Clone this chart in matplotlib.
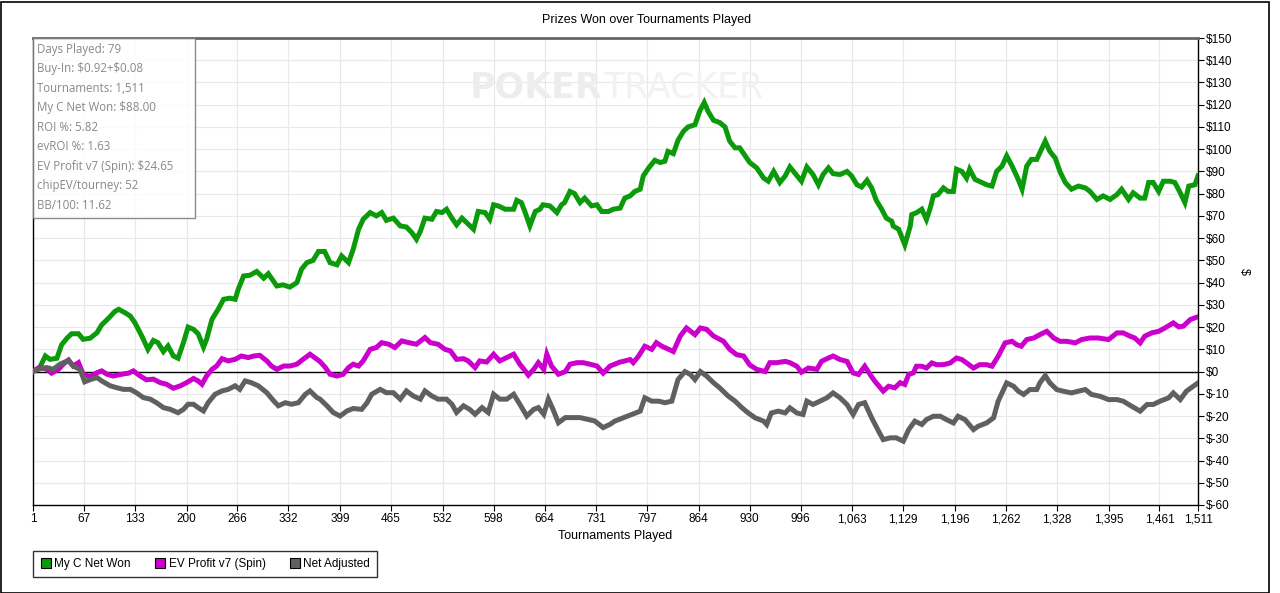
import matplotlib
matplotlib.use('Agg')
import matplotlib.pyplot as plt
from matplotlib.patches import Rectangle
from matplotlib.ticker import FuncFormatter, FixedLocator, MultipleLocator

# --- data (tournament number, $) ---
net_t = [1, 10, 17, 23, 32, 38, 45, 51, 60, 66, 75, 84, 90, 99, 107, 112, 120, 127, 133, 142,
         150, 157, 163, 170, 176, 183, 189, 196, 202, 209, 215, 222, 226, 233, 241, 248, 256, 263,
         267, 274, 282, 291, 300, 306, 317, 325, 334, 343, 349, 356, 364, 371, 379, 386, 395, 401,
         410, 416, 423, 429, 438, 446, 453, 459, 468, 477, 485, 492, 498, 503, 509, 518, 524, 531,
         537, 544, 550, 557, 563, 572, 578, 587, 593, 598, 604, 613, 624, 628, 634, 639, 645, 652,
         658, 662, 671, 680, 686, 690, 697, 703, 710, 716, 725, 732, 738, 747, 753, 762, 768, 775,
         781, 788, 792, 799, 807, 814, 820, 824, 831, 837, 844, 850, 859, 865, 871, 876, 883, 891,
         898, 904, 911, 917, 924, 930, 939, 948, 954, 961, 969, 976, 982, 989, 997, 1004, 1012,
         1019, 1025, 1032, 1038, 1047, 1056, 1062, 1069, 1075, 1082, 1088, 1094, 1101, 1107, 1114,
         1116, 1123, 1131, 1138, 1140, 1146, 1153, 1159, 1164, 1168, 1174, 1181, 1187, 1194, 1198,
         1205, 1211, 1215, 1222, 1231, 1237, 1244, 1250, 1257, 1263, 1270, 1278, 1283, 1289, 1295,
         1302, 1306, 1313, 1319, 1326, 1332, 1339, 1347, 1356, 1365, 1371, 1380, 1388, 1397, 1406,
         1412, 1421, 1427, 1436, 1442, 1447, 1453, 1460, 1466, 1475, 1481, 1488, 1494, 1499, 1507,
         1511]
net_v = [0, 2, 7, 5.5, 6, 12, 15, 17, 17, 14.5, 15, 17.5, 21, 24, 27, 28, 26.5, 25, 22, 16,
         10, 14, 13, 9, 11.5, 7, 6, 13, 20, 19, 17, 11, 14.5, 23.5, 28, 32.5, 33, 32.5,
         37, 43, 43.3, 45, 42, 44, 38.5, 39, 38, 40, 46, 49, 50, 54, 54, 49, 48, 52,
         49, 55, 64, 68.5, 71.5, 70, 71.5, 68, 69, 65.5, 65, 62.5, 59.5, 63, 69, 68.5, 72, 71.5,
         73, 69, 66, 69, 67, 64, 72, 71.5, 68.5, 75, 74.5, 73, 73, 77, 76, 71.5, 65.5, 72,
         73, 75, 74.5, 71.5, 75, 76, 81, 80, 76, 78, 74.5, 75, 72, 72, 73, 73.5, 78, 79,
         81, 82, 88, 91.6, 95, 94, 94.6, 99, 98, 104, 108, 110, 111, 117, 121, 117, 113, 112,
         110, 103.6, 100.6, 100.6, 97, 94, 91.6, 87, 85.6, 90, 85, 88, 92, 89, 85.6, 92, 88.6,
         84, 88.6, 91.6, 89, 88.6, 90, 88, 84, 83, 86, 82.6, 77, 73, 69, 67.6,
         65.4, 64, 57, 65.4, 70.6, 71.4, 73, 68.4, 73.6, 79, 79.6, 82.6, 81, 81, 91,
         90, 87, 91, 86.4, 85, 84, 83.4, 90, 92.4, 97, 92.4, 86.4, 82, 92.4, 95.4,
         95.4, 98.4, 103.6, 99, 96, 90, 85, 82, 83.4, 82.6, 81, 77.4, 79, 77.4, 79.6,
         82, 77.4, 80.4, 78, 78, 85, 85, 81, 85.6, 85.6, 85, 80.4, 76, 83.4, 84,
         88]

ev_t = [1, 10, 19, 25, 34, 40, 47, 53, 60, 66, 75, 84, 90, 97, 105, 116, 125, 131, 140, 148,
        157, 166, 174, 183, 192, 200, 209, 215, 220, 226, 233, 239, 246, 254, 263, 271, 280, 287,
        295, 304, 310, 317, 326, 334, 343, 351, 360, 369, 373, 380, 386, 395, 403, 410, 416, 423,
        429, 438, 446, 453, 462, 470, 479, 488, 498, 509, 516, 526, 535, 542, 550, 559, 565, 574,
        580, 589, 598, 606, 615, 624, 632, 639, 643, 650, 656, 663, 667, 673, 682, 691, 697, 706,
        714, 723, 732, 740, 749, 762, 766, 775, 779, 786, 794, 803, 809, 816, 825, 831, 840, 848,
        859, 866, 874, 883, 896, 904, 913, 922, 930, 939, 950, 956, 965, 976, 982, 991, 997,
        1006, 1017, 1023, 1032, 1038, 1047, 1056, 1064, 1071, 1079, 1086, 1092, 1103, 1110, 1118,
        1125, 1131, 1136, 1142, 1146, 1153, 1159, 1166, 1172, 1181, 1190, 1198, 1205, 1211, 1220,
        1228, 1237, 1244, 1252, 1261, 1270, 1276, 1282, 1289, 1298, 1306, 1315, 1324, 1332, 1341,
        1352, 1360, 1371, 1382, 1395, 1406, 1414, 1423, 1429, 1436, 1442, 1451, 1460, 1468, 1479,
        1486, 1492, 1501, 1511]
ev_v = [0, 2, 1, -0.7, 1, 3.3, 5.2, 2.5, 4, -1.2, -2.2, -0.5, 0.3, -1.2, -2, -1.2, -0.7, 0.3, -2, -3.7,
        -3.4, -5, -5.7, -7.5, -6.4, -5, -3.1, -4.2, -5.7, -2, 1, 2.5, 5.8, 4.8, 5.5, 7, 6.3, 7,
        7.3, 4.8, 2.5, 1, 2.5, 2.5, 3.3, 5.5, 7.8, 5.5, 4.5, 1.8, -1.2, -2, -1.2, 1.8, 3.3, 2.5,
        4.8, 10, 10.8, 13, 12.3, 10.8, 13.8, 13, 12.3, 15.3, 13, 12.3, 10, 9.3, 5.5, 5.8, 4.8, 1.8,
        4.8, 4.3, 7.8, 4.8, 6.3, 7.8, 3.3, 0.3, -1.6, 1, 4, 1, 7.8, 2.5, -1.2, 0, 3.3, 4,
        4, 3.3, 2.5, -0.7, 2.5, 4.3, 4.6, 5.4, 4, 7, 11.4, 10, 13, 11.4, 10, 9, 16, 19.6,
        16.6, 19.6, 19, 16, 13.6, 10, 7.6, 7, 3, 1, 0, 4, 4, 4.6, 4, 2.4, -0.3,
        1.6, 1, 4.6, 6.1, 7, 5.4, 4.6, -0.6, -1.3, 2.4, -1.3, -4.3, -8.8, -6.6, -7.3,
        -5, -5.8, -1.3, -0.6, 2.4, 2.4, 1.6, 3.9, 3.1, 3.1, 3.9, 6.1, 5.4, 3.9, 1.6,
        3.1, 3.1, 2.4, 6.9, 12.9, 13.6, 12.1, 11.4, 14.4, 15.1, 16.6, 18.1, 15.1, 13.6, 13.6,
        12.9, 14.4, 15.1, 15.1, 14.4, 17.4, 17.4, 15.9, 15.1, 12.9, 15.9, 17.4, 18.1, 19.6, 21.9,
        20.1, 20.4, 23.4, 24.65]

adj_t = [1, 10, 19, 27, 36, 47, 53, 62, 68, 77, 84, 90, 101, 109, 118, 127, 135, 144, 153, 161,
         170, 179, 189, 196, 202, 209, 215, 222, 228, 237, 246, 254, 263, 269, 276, 284, 293, 304,
         313, 319, 328, 336, 345, 354, 360, 369, 373, 382, 390, 399, 408, 416, 427, 434, 440, 451,
         459, 468, 477, 485, 494, 503, 509, 518, 526, 537, 544, 550, 559, 567, 574, 583, 591, 598,
         606, 615, 624, 632, 641, 650, 656, 663, 669, 675, 682, 691, 701, 710, 719, 729, 740, 749,
         755, 766, 777, 788, 794, 803, 812, 820, 829, 837, 846, 853, 859, 866, 874, 883, 891, 902,
         911, 920, 928, 937, 948, 952, 958, 967, 976, 982, 991, 999, 1004, 1012, 1021, 1030, 1038,
         1047, 1056, 1064, 1071, 1079, 1088, 1097, 1103, 1112, 1120, 1129, 1136, 1144, 1153, 1159,
         1168, 1177, 1185, 1194, 1200, 1209, 1220, 1226, 1237, 1246, 1252, 1263, 1272, 1278, 1285,
         1293, 1302, 1306, 1313, 1319, 1328, 1336, 1347, 1356, 1365, 1373, 1384, 1395, 1406, 1414,
         1425, 1436, 1445, 1453, 1462, 1473, 1479, 1488, 1496, 1505, 1511]
adj_v = [0, 1.3, 1.8, 1, 3.3, 5, 2.5, 1, -4.6, -3.4, -2.7, -4.2, -6.4, -7.2, -8, -8, -9.5, -11.7, -12.4, -14,
         -16.2, -17, -18.5, -17, -14.7, -14.7, -16.2, -17.7, -14, -10.2, -8.7, -8, -6.4, -8, -4.2, -5, -6.4, -9.5,
         -13.2, -15.4, -14, -14.7, -14, -10.2, -8.7, -11.7, -12.4, -15.4, -18.4, -20, -17.7, -16.6, -17, -14, -10.2, -8,
         -9.5, -9.5, -12.4, -8.7, -11, -12.4, -8.7, -11, -12.4, -12.4, -14.7, -18.4, -15.4, -17, -19.2, -16.2, -18.4, -10.2,
         -12.4, -12.4, -10.2, -14.7, -20, -17, -16.2, -19.2, -12.4, -17, -23, -20.7, -20.7, -20.7, -21.4, -22.2, -25.2, -23.7,
         -22.3, -20.8, -19.3, -17.8, -11.8, -13.3, -13.3, -14, -13.3, -3.6, 0, -1.3, -3.6, 0, -2, -5, -7.3, -11,
         -13.3, -16.3, -18.6, -20.8, -22.3, -23.8, -18.6, -17.8, -18.6, -16.3, -18.6, -19.3, -13.3, -14.8, -13.3, -11.8, -9.6,
         -11.8, -14.8, -19.3, -14.8, -14, -20.8, -26.8, -30.6, -29.8, -29.8, -31.3, -26.1, -22.3, -23.8, -21.6,
         -20.1, -20.1, -21.6, -23.1, -20.1, -21.6, -26.1, -24.6, -23.1, -20.8, -13.3, -5.1, -6.6, -8.8, -10.3,
         -8.1, -8.1, -5.1, -1.8, -5.1, -8.1, -8.8, -9.6, -8.8, -8.1, -10.3, -11.1, -12.6, -12.6, -13.3,
         -15.6, -17.8, -14.8, -14.8, -13.3, -11.8, -9.6, -12.6, -8.8, -6.6, -5.1]

x_ticks = [1, 67, 133, 200, 266, 332, 399, 465, 532, 598, 664, 731, 797, 864, 930, 996,
           1063, 1129, 1196, 1262, 1328, 1395, 1461, 1511]

stats = ['Days Played: 79', 'Buy-In: \\$0.92+\\$0.08', 'Tournaments: 1,511', 'My C Net Won: \\$88.00',
         'ROI %: 5.82', 'evROI %: 1.63', 'EV Profit v7 (Spin): \\$24.65', 'chipEV/tourney: 52',
         'BB/100: 11.62']

series = [('My C Net Won', net_t, net_v, '#0a9a0a'),
          ('EV Profit v7 (Spin)', ev_t, ev_v, '#cc00cc'),
          ('Net Adjusted', adj_t, adj_v, '#606060')]

plt.rcParams['font.family'] = ['Liberation Sans', 'DejaVu Sans']

fig = plt.figure(figsize=(12.8, 5.93), dpi=100)
ax = fig.add_axes([33/1280, 1-505/593, (1198-33)/1280, (505-38)/593])

ax.set_xlim(1, 1511)
ax.set_ylim(-60, 150)

ax.grid(True, color='#e8e8e8', lw=0.8, zorder=0)
ax.axhline(0, color='black', lw=1, zorder=2)

handles = []
for name, t, v, c in series:
    ax.plot(t, v, color=c, lw=3.6, solid_joinstyle='miter', zorder=3)
    handles.append(plt.Line2D([], [], marker='s', ls='', markersize=7, markerfacecolor=c,
                              markeredgecolor='black', markeredgewidth=0.8, label=name))

ax.xaxis.set_major_locator(FixedLocator(x_ticks))
ax.xaxis.set_major_formatter(FuncFormatter(lambda x, p: f'{int(round(x)):,}'))
ax.yaxis.set_major_locator(MultipleLocator(10))
ax.yaxis.set_major_formatter(FuncFormatter(lambda y, p: f'\\${int(round(y))}'))
ax.yaxis.tick_right()
ax.yaxis.set_label_position('right')
ax.tick_params(axis='both', labelsize=8.5, length=4, width=0.8, direction='out', pad=2)

for s in ['left', 'bottom', 'right']:
    ax.spines[s].set_color('black')
    ax.spines[s].set_linewidth(1)
ax.spines['top'].set_color('#666666')
ax.spines['top'].set_linewidth(2)

ax.set_xlabel('Tournaments Played', fontsize=9, labelpad=3)
ax.set_ylabel('\\$', fontsize=9, rotation=270, labelpad=12)

fig.text(0.505, 1-20/593, 'Prizes Won over Tournaments Played', ha='center', va='center', fontsize=9)

# watermark
fig.text(470/1280, 1-87/593, 'POKER', fontsize=25, fontweight='bold', color='#ededed',
         ha='left', va='center', family='DejaVu Sans', zorder=1)
fig.text(603/1280, 1-87/593, 'TRACKER', fontsize=25, color='#f2f2f2',
         ha='left', va='center', family='DejaVu Sans', zorder=1)

# stats box
ax.add_patch(Rectangle((0, 1-(218-38)/467), (195-33)/1165, (218-38)/467, transform=ax.transAxes,
                       facecolor='white', alpha=0.85, edgecolor='#777777', lw=1, zorder=4))
for i, s in enumerate(stats):
    ax.text(4/1165, 1-(11+i*19.5)/467, s, transform=ax.transAxes, fontsize=8.3, color='#888888',
            family='Open Sans', va='center', ha='left', zorder=5)

fig.legend(handles=handles, loc='lower left', bbox_to_anchor=(33/1280, 1-577/593), ncol=3,
           fontsize=8.5, frameon=True, fancybox=False, edgecolor='black', handletextpad=0.2,
           columnspacing=2.0, borderpad=0.6, handlelength=1, borderaxespad=0)

fig.add_artist(Rectangle((0.5/1280, 0.5/593), 1268/1280, 591/593, transform=fig.transFigure,
                         fill=False, edgecolor='black', lw=1.2))

fig.savefig('out.png', dpi=100)
